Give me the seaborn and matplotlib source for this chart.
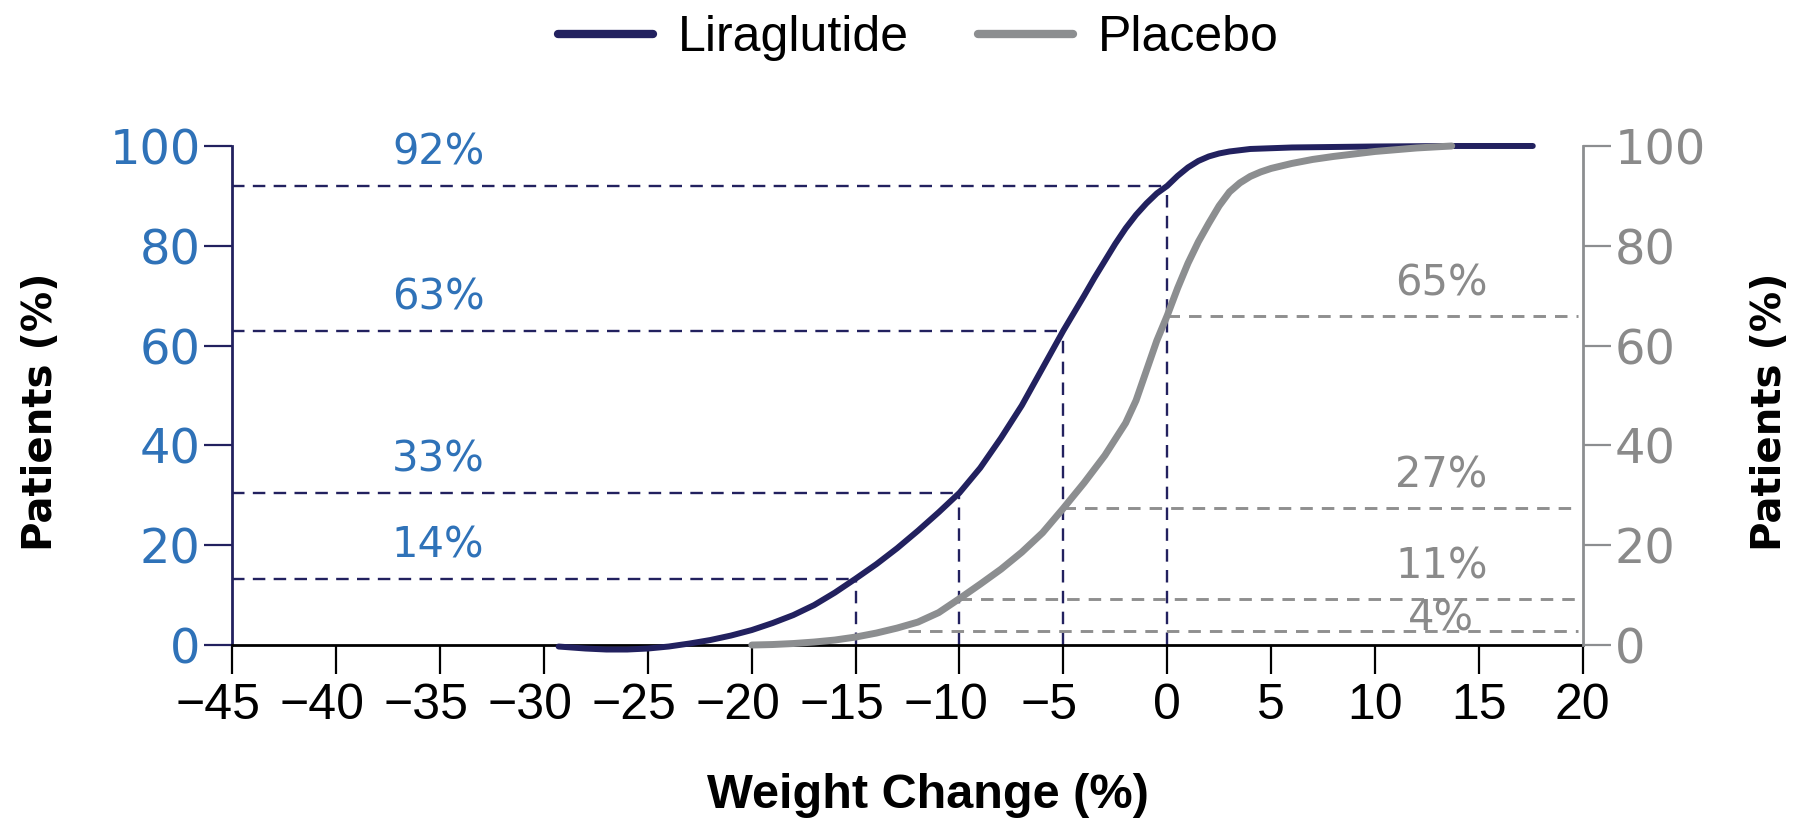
import matplotlib
matplotlib.use("Agg")
import matplotlib.pyplot as plt
import matplotlib.transforms as mtrans
import seaborn as sns
import pandas as pd

# ---------------- data ----------------
lira_x = [-29.3, -28, -27, -26, -25, -24, -23, -22, -21, -20, -19, -18, -17, -16,
          -15, -14, -13, -12, -11, -10, -9, -8, -7, -6, -5, -4, -3.5, -3, -2.5, -2, -1.5, -1, -0.5, 0,
          0.5, 1, 1.5, 2, 2.5, 3, 4, 6, 10, 14, 17.6]
lira_y = [-0.3, -0.7, -0.9, -0.9, -0.7, -0.3, 0.3, 1.0, 1.9, 3.0, 4.4, 6.0, 8.0, 10.5,
          13.3, 16.2, 19.4, 22.9, 26.6, 30.5, 35.5, 41.5, 48.0, 55.5, 63.0, 70.0, 73.6, 77.0, 80.4, 83.5, 86.2, 88.5, 90.5, 92.0,
          94.0, 95.7, 97.0, 97.9, 98.5, 98.9, 99.4, 99.7, 99.9, 100.0, 100.0]

plac_x = [-20, -19, -18, -17, -16, -15, -14, -13, -12, -11, -10, -9, -8, -7, -6, -5,
          -4, -3, -2, -1.5, -1, -0.5, 0, 0.5, 1, 1.5, 2, 2.5, 3, 3.5, 4, 4.5, 5, 6, 7, 8, 9, 10, 12, 13.7]
plac_y = [0.0, 0.1, 0.3, 0.6, 1.0, 1.6, 2.4, 3.4, 4.6, 6.5, 9.3, 12.2, 15.2, 18.6, 22.5, 27.4,
          32.5, 38.0, 44.5, 49.0, 55.0, 61.0, 66.0, 71.5, 76.5, 80.8, 84.5, 88.0, 90.8, 92.6, 93.9, 94.8, 95.5,
          96.5, 97.3, 97.9, 98.4, 98.9, 99.6, 100.0]

lira_thresholds = [-15, -10, -5, 0]
lira_levels = [13.3, 30.5, 63.0, 92.0]
lira_labels = ["14%", "33%", "63%", "92%"]

plac_thresholds = [-12.5, -10, -5, 0]
plac_levels = [2.8, 9.3, 27.4, 66.0]
plac_labels = ["4%", "11%", "27%", "65%"]

x_ticks = [-45, -40, -35, -30, -25, -20, -15, -10, -5, 0, 5, 10, 15, 20]
x_tick_labels = ["\u221245", "\u221240", "\u221235", "\u221230", "\u221225", "\u221220",
                 "\u221215", "\u221210", "\u22125", "0", "5", "10", "15", "20"]
y_ticks = [0, 20, 40, 60, 80, 100]
series_names = ["Liraglutide", "Placebo"]

# ---------------- style ----------------
NAVY = "#22215f"
GREY = "#8c8e90"
BLUE_TXT = "#2f72b8"
GREY_TXT = "#8a8a8a"

sns.set_style("white")
plt.rcParams["font.family"] = ["Liberation Sans", "DejaVu Sans"]
plt.rcParams["lines.scale_dashes"] = False
plt.rcParams["text.color"] = "black"
plt.rcParams["axes.labelcolor"] = "black"

fig = plt.figure(figsize=(18.05, 8.24), dpi=100)
ax = fig.add_axes([0.1288, 0.19903, 0.748, 0.63592])

df = pd.concat([
    pd.DataFrame({"x": lira_x, "y": lira_y, "Treatment": series_names[0]}),
    pd.DataFrame({"x": plac_x, "y": plac_y, "Treatment": series_names[1]}),
], ignore_index=True)

sns.lineplot(data=df[df.Treatment == series_names[0]], x="x", y="y", color=NAVY,
             linewidth=4.3, sort=False, estimator=None, ax=ax, label=series_names[0], zorder=3)
sns.lineplot(data=df[df.Treatment == series_names[1]], x="x", y="y", color=GREY,
             linewidth=5.0, sort=False, estimator=None, ax=ax, label=series_names[1], zorder=4)

# reference lines
navy_dash = (0, (9.0, 6.0))
grey_dash = (0, (9.0, 6.5))
for tx, lv, lb in zip(lira_thresholds, lira_levels, lira_labels):
    ax.plot([-45, tx], [lv, lv], color=NAVY, lw=1.7, linestyle=navy_dash, zorder=1)
    ax.plot([tx, tx], [0, lv], color=NAVY, lw=1.7, linestyle=navy_dash, zorder=1)
    ax.text(-35.1, lv + 6.6, lb, color=BLUE_TXT, fontsize=30, family="DejaVu Sans",
            ha="center", va="center")

for i, (tx, lv, lb) in enumerate(zip(plac_thresholds, plac_levels, plac_labels)):
    ax.plot([tx, 19.8], [lv, lv], color="#8f8f8f", lw=2.1, linestyle=grey_dash, zorder=1)
    nxt = plac_levels[i + 1] if i + 1 < len(plac_levels) else 200
    ty = min(lv + 6.5, lv + 0.4 * (nxt - lv))
    ax.text(13.2, ty, lb, color=GREY_TXT, fontsize=30, family="DejaVu Sans",
            ha="center", va="center")

# axes
ax.set_xlim(-45, 20)
ax.set_ylim(-3, 102)
ax.set_xticks(x_ticks, labels=x_tick_labels)
ax.set_yticks(y_ticks)
ax.spines["top"].set_visible(False)
ax.spines["right"].set_visible(False)
ax.spines["bottom"].set_position(("data", 0))
ax.spines["bottom"].set_color("black")
ax.spines["bottom"].set_linewidth(2)
ax.spines["left"].set_bounds(0, 100)
ax.spines["left"].set_color(NAVY)
ax.spines["left"].set_linewidth(2)

ax.tick_params(axis="x", direction="out", length=21, width=1.6, color="black",
               pad=6, labelsize=36, labelcolor="black", bottom=True)
ax.tick_params(axis="y", direction="out", length=20, width=1.6, color=NAVY,
               pad=3, labelsize=34.5, labelcolor=BLUE_TXT, left=True)
for lbl in ax.get_yticklabels():
    lbl.set_family("DejaVu Sans")

# center the digits (not the minus sign) under each tick, as in the reference
shift = mtrans.ScaledTranslation(-0.14, 0, fig.dpi_scale_trans)
for val, lbl in zip(x_ticks, ax.get_xticklabels()):
    if val < 0:
        lbl.set_transform(lbl.get_transform() + shift)

ax2 = ax.twinx()
ax2.set_ylim(-3, 102)
ax2.set_yticks(y_ticks)
for s in ["top", "left", "bottom"]:
    ax2.spines[s].set_visible(False)
ax2.spines["right"].set_bounds(0, 100)
ax2.spines["right"].set_color(GREY)
ax2.spines["right"].set_linewidth(2)
ax2.tick_params(axis="y", direction="out", length=20, width=1.6, color=GREY,
                pad=3, labelsize=34.5, labelcolor=GREY_TXT, right=True, left=False)
for lbl in ax2.get_yticklabels():
    lbl.set_family("DejaVu Sans")

ax.set_xlabel("Weight Change (%)", fontsize=35, fontweight="bold", family="Liberation Sans",
              color="black")
ax.xaxis.set_label_coords(0.515, -0.215)
ax.set_ylabel("Patients (%)", fontsize=29, fontweight="bold", family="DejaVu Sans", color="black")
ax.yaxis.set_label_coords(-0.127, 0.473)
ax2.set_ylabel("Patients (%)", fontsize=29, fontweight="bold", family="DejaVu Sans",
               rotation=90, color="black")
ax2.yaxis.set_label_coords(1.124, 0.473)

handles, labels = ax.get_legend_handles_labels()
leg = ax.legend(handles, labels, loc="center", bbox_to_anchor=(0.508, 1.187), ncol=2,
                frameon=False, fontsize=36, handlelength=1.9, handletextpad=0.5,
                columnspacing=1.38, labelcolor="black")
for h in leg.legend_handles:
    h.set_linewidth(6)

fig.savefig("out.png", dpi=100)
